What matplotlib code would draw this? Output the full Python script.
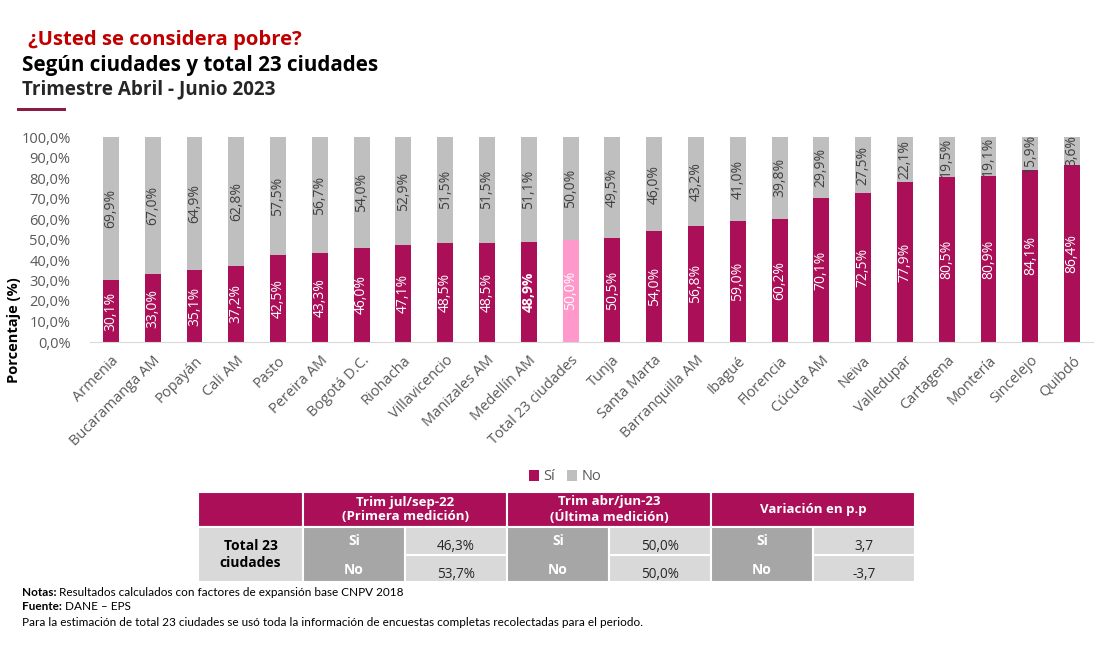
import matplotlib
matplotlib.use("Agg")
import matplotlib.pyplot as plt
from matplotlib.patches import Rectangle

plt.rcParams["font.family"] = ["Open Sans", "DejaVu Sans"]

# ---- data -------------------------------------------------------------
CITIES = [
    "Armenia", "Bucaramanga AM", "Popayán", "Cali AM", "Pasto", "Pereira AM",
    "Bogotá D.C.", "Riohacha", "Villavicencio", "Manizales AM", "Medellín AM",
    "Total 23 ciudades", "Tunja", "Santa Marta", "Barranquilla AM", "Ibagué",
    "Florencia", "Cúcuta AM", "Neiva", "Valledupar", "Cartagena", "Montería",
    "Sincelejo", "Quibdó",
]
SI_PCT = [30.1, 33.0, 35.1, 37.2, 42.5, 43.3, 46.0, 47.1, 48.5, 48.5, 48.9, 50.0,
          50.5, 54.0, 56.8, 59.0, 60.2, 70.1, 72.5, 77.9, 80.5, 80.9, 84.1, 86.4]
# "No" labels as printed in the source chart
NO_PCT = [69.9, 67.0, 64.9, 62.8, 57.5, 56.7, 54.0, 52.9, 51.5, 51.5, 51.1, 50.0,
          49.5, 46.0, 43.2, 41.0, 39.8, 29.9, 27.5, 22.1, 19.5, 19.1, 15.9, 3.6]
TOTAL_LABEL = "Total 23 ciudades"
BOLD_LABEL = "Medellín AM"

TABLE_PERIODS = ["Trim jul/sep-22\n(Primera medición)",
                 "Trim abr/jun-23\n(Última medición)",
                 "Variación en p.p"]
TABLE_SI = [46.3, 50.0, 3.7]
TABLE_NO = [53.7, 50.0, -3.7]
TABLE_IS_PCT = [True, True, False]

MAGENTA = "#AA0F58"
PINK = "#FF99CC"
GREY = "#BFBFBF"
TXT_GREY = "#595959"


def fmt(v, pct=True):
    s = f"{v:.1f}".replace(".", ",")
    return s + "%" if pct else s


W, H = 1117, 647
fig = plt.figure(figsize=(W / 100, H / 100), dpi=100)

# ---- bar chart --------------------------------------------------------
ax = fig.add_axes([90 / W, 1 - 342 / H, (1093 - 90) / W, (342 - 137) / H])
x = list(range(len(CITIES)))
si_colors = [PINK if c == TOTAL_LABEL else MAGENTA for c in CITIES]
rest = [100 - s for s in SI_PCT]
ax.bar(x, SI_PCT, width=0.38, color=si_colors, label="Sí")
ax.bar(x, rest, bottom=SI_PCT, width=0.38, color=GREY, label="No")

for i, c in enumerate(CITIES):
    ax.text(i, SI_PCT[i] / 2, fmt(SI_PCT[i]), rotation=90, ha="center", va="center",
            color="white", fontsize=10,
            fontweight="bold" if c == BOLD_LABEL else "normal")
    ax.text(i, SI_PCT[i] + rest[i] / 2, fmt(NO_PCT[i]), rotation=90, ha="center",
            va="center", color="#404040", fontsize=10, zorder=5)

ax.set_xlim(-0.5, len(CITIES) - 0.5)
ax.set_ylim(0, 100)
ax.set_yticks(range(0, 101, 10))
ax.set_yticklabels([fmt(v) for v in range(0, 101, 10)])
ax.set_xticks(x)
ax.set_xticklabels(CITIES, rotation=45, ha="right", rotation_mode="anchor")
ax.tick_params(axis="both", length=0, labelsize=10.5, colors=TXT_GREY)
ax.tick_params(axis="y", pad=14)
ax.tick_params(axis="x", pad=8)
for side in ["top", "right", "left"]:
    ax.spines[side].set_visible(False)
ax.spines["bottom"].set_color("#D9D9D9")
fig.text(14 / W, 1 - 330 / H, "Porcentaje (%)", rotation=90, ha="center",
         va="center", fontsize=10.5, fontweight="bold")

fig.legend(*ax.get_legend_handles_labels(), loc="center",
           bbox_to_anchor=(565 / W, 1 - 477 / H), ncol=2, frameon=False,
           handlelength=0.7, handleheight=0.7, handletextpad=0.3,
           columnspacing=0.8, fontsize=10.5, labelcolor=TXT_GREY)

# ---- titles -----------------------------------------------------------
fig.text(28 / W, 1 - 40 / H, "¿Usted se considera pobre?", color="#C00000",
         fontsize=14.6, fontweight="bold", va="center")
fig.text(22 / W, 1 - 65 / H, "Según ciudades y total 23 ciudades", color="black",
         fontsize=14.9, fontweight="bold", va="center")
fig.text(22 / W, 1 - 89 / H, "Trimestre Abril - Junio 2023", color="#262626",
         fontsize=13.6, fontweight="bold", va="center")

# overlay in pixel coordinates for table and decorations
ov = fig.add_axes([0, 0, 1, 1])
ov.set_xlim(0, W)
ov.set_ylim(H, 0)
ov.axis("off")
ov.add_patch(Rectangle((17, 108), 49, 3, color="#8B1A44", lw=0))

# ---- table ------------------------------------------------------------
t_left, t_top, head_h, row_h = 198, 492, 35, 27.5
first_w, sub_w = 105, 102
body_top = t_top + head_h
cell_kw = dict(ec="white", lw=1.5)

ov.add_patch(Rectangle((t_left, t_top), first_w, head_h, fc=MAGENTA, **cell_kw))
ov.add_patch(Rectangle((t_left, body_top), first_w, 2 * row_h, fc="#D9D9D9", **cell_kw))
ov.text(t_left + first_w / 2, body_top + row_h, "Total 23\nciudades", ha="center",
        va="center", fontsize=10, fontweight="bold", linespacing=1.2)

for j, period in enumerate(TABLE_PERIODS):
    x0 = t_left + first_w + j * 2 * sub_w
    ov.add_patch(Rectangle((x0, t_top), 2 * sub_w, head_h, fc=MAGENTA, **cell_kw))
    ov.text(x0 + sub_w, t_top + head_h / 2, period, ha="center", va="center",
            color="white", fontsize=9.5, fontweight="bold", linespacing=1.1)
    ov.add_patch(Rectangle((x0, body_top), sub_w, 2 * row_h, fc="#A6A6A6", **cell_kw))
    ov.text(x0 + sub_w / 2, body_top + 14, "Si", ha="center", va="center",
            color="white", fontsize=10, fontweight="bold")
    ov.text(x0 + sub_w / 2, body_top + row_h + 15, "No", ha="center", va="center",
            color="white", fontsize=10, fontweight="bold")
    for k, v in enumerate([TABLE_SI[j], TABLE_NO[j]]):
        y0 = body_top + k * row_h
        ov.add_patch(Rectangle((x0 + sub_w, y0), sub_w, row_h, fc="#D9D9D9", **cell_kw))
        ov.text(x0 + 1.5 * sub_w, y0 + row_h - 8, fmt(v, TABLE_IS_PCT[j]),
                ha="center", va="center", fontsize=9.8, color="#262626")

# ---- footnotes --------------------------------------------------------
foot_kw = dict(fontsize=8.5, va="center", family=["Lato", "DejaVu Sans"])
for y, head, body in [(593, "Notas:", " Resultados calculados con factores de expansión base CNPV 2018"),
                      (607, "Fuente:", " DANE – EPS")]:
    t = ov.text(22, y, head, fontweight="bold", **foot_kw)
    ov.annotate(body, xy=(1, 0.5), xycoords=t, **foot_kw)
ov.text(22, 622, "Para la estimación de total 23 ciudades se usó toda la información "
        "de encuestas completas recolectadas para el periodo.", **foot_kw)

fig.savefig("out.png", dpi=100)
